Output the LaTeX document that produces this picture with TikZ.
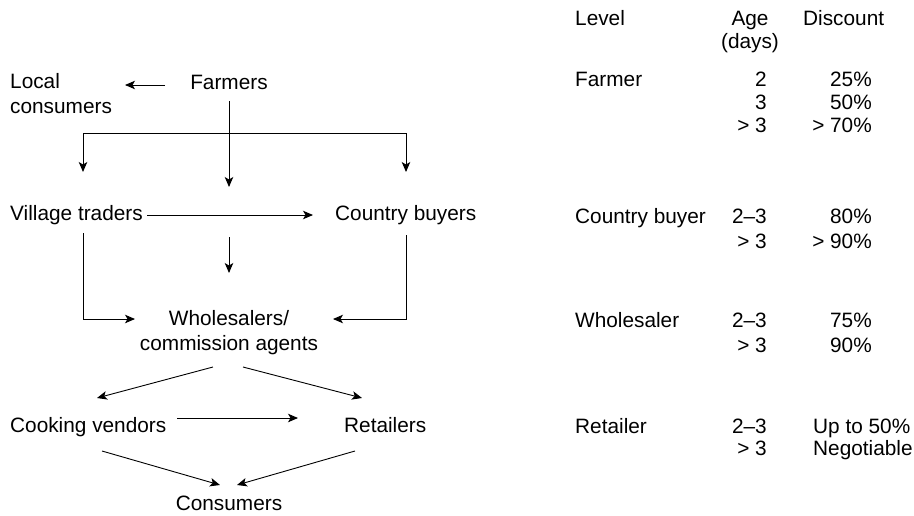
\documentclass[tikz,border=0pt]{standalone}
\usepackage{fontspec}
\setmainfont{Liberation Sans}
\usetikzlibrary{arrows.meta}
\begin{document}
\begin{tikzpicture}[x=1pt,y=-1pt,
  lbl/.style={inner sep=0pt, font=\fontsize{20.8pt}{24.5pt}\selectfont},
  lw/.style={lbl, anchor=base west},
  lc/.style={lbl, anchor=base},
  le/.style={lbl, anchor=base east},
  arr/.style={line width=0.9pt, -{Stealth[length=10pt,width=8.5pt,inset=2.5pt]}},
  ln/.style={line width=0.9pt}]
\useasboundingbox (0,0) rectangle (914,515);
% flow diagram
\node[lc] (farmers) at (229,89) {Farmers};
\node[lw, align=left] (local) at (10,113) {Local\\consumers};
\node[lw] (village) at (10,220) {Village traders};
\node[lw] (country) at (335,220) {Country buyers};
\node[lc, align=center] (whole) at (229,350) {Wholesalers/\\commission agents};
\node[lw] (cooking) at (10,432) {Cooking vendors};
\node[lw] (retail) at (344,432) {Retailers};
\node[lc] (cons) at (229,510) {Consumers};
% connector coordinates
\coordinate (fl1) at (165,85); \coordinate (fl2) at (125,85);
\coordinate (fv1) at (229,101); \coordinate (fv2) at (229,187);
\coordinate (bl) at (83,133); \coordinate (br) at (406,133);
\coordinate (blE) at (83,172); \coordinate (brE) at (406,172);
\coordinate (vc1) at (147,215); \coordinate (vc2) at (313,215);
\coordinate (m1) at (229,237); \coordinate (m2) at (229,273);
\coordinate (vl1) at (83,233); \coordinate (vl2) at (135,319);
\coordinate (cr1) at (406,235); \coordinate (cr2) at (333,319);
\coordinate (wc1) at (213,367); \coordinate (wc2) at (97,398);
\coordinate (wr1) at (243,367); \coordinate (wr2) at (362,398);
\coordinate (cv1) at (177,418); \coordinate (cv2) at (298,418);
\coordinate (cc1) at (102,451); \coordinate (cc2) at (220,485);
\coordinate (rc1) at (355,451); \coordinate (rc2) at (237,485);
\draw[arr] (fl1) -- (fl2);
\draw[arr] (fv1) -- (fv2);
\draw[ln] (bl) -- (br);
\draw[arr] (bl) -- (blE);
\draw[arr] (br) -- (brE);
\draw[arr] (vc1) -- (vc2);
\draw[arr] (m1) -- (m2);
\draw[arr] (vl1) |- (vl2);
\draw[arr] (cr1) |- (cr2);
\draw[arr] (wc1) -- (wc2);
\draw[arr] (wr1) -- (wr2);
\draw[arr] (cv1) -- (cv2);
\draw[arr] (cc1) -- (cc2);
\draw[arr] (rc1) -- (rc2);
% table
\node[lw] (hlev) at (575,25) {Level};
\node[lc] (hage) at (750,25) {Age};
\node[lc] (hdays) at (750,48) {(days)};
\node[lw] (hdisc) at (803,25) {Discount};
\node[lw] (tfarm) at (575,86) {Farmer};
\node[le] (fa1) at (767,86) {2};
\node[le] (fa2) at (767,109) {3};
\node[le] (fa3) at (767,132) {> 3};
\node[le] (fd1) at (872,86) {25\%};
\node[le] (fd2) at (872,109) {50\%};
\node[le] (fd3) at (872,132) {> 70\%};
\node[lw] (tcb) at (575,223) {Country buyer};
\node[le] (ca1) at (767,223) {2–3};
\node[le] (ca2) at (767,248) {> 3};
\node[le] (cd1) at (872,223) {80\%};
\node[le] (cd2) at (872,248) {> 90\%};
\node[lw] (tws) at (575,327) {Wholesaler};
\node[le] (wa1) at (767,327) {2–3};
\node[le] (wa2) at (767,352) {> 3};
\node[le] (wd1) at (872,327) {75\%};
\node[le] (wd2) at (872,352) {90\%};
\node[lw] (trt) at (575,433) {Retailer};
\node[le] (ra1) at (767,433) {2–3};
\node[le] (ra2) at (767,455) {> 3};
\node[lw] (rd1) at (813,433) {Up to 50\%};
\node[lw] (rd2) at (813,455) {Negotiable};
\end{tikzpicture}
\end{document}
